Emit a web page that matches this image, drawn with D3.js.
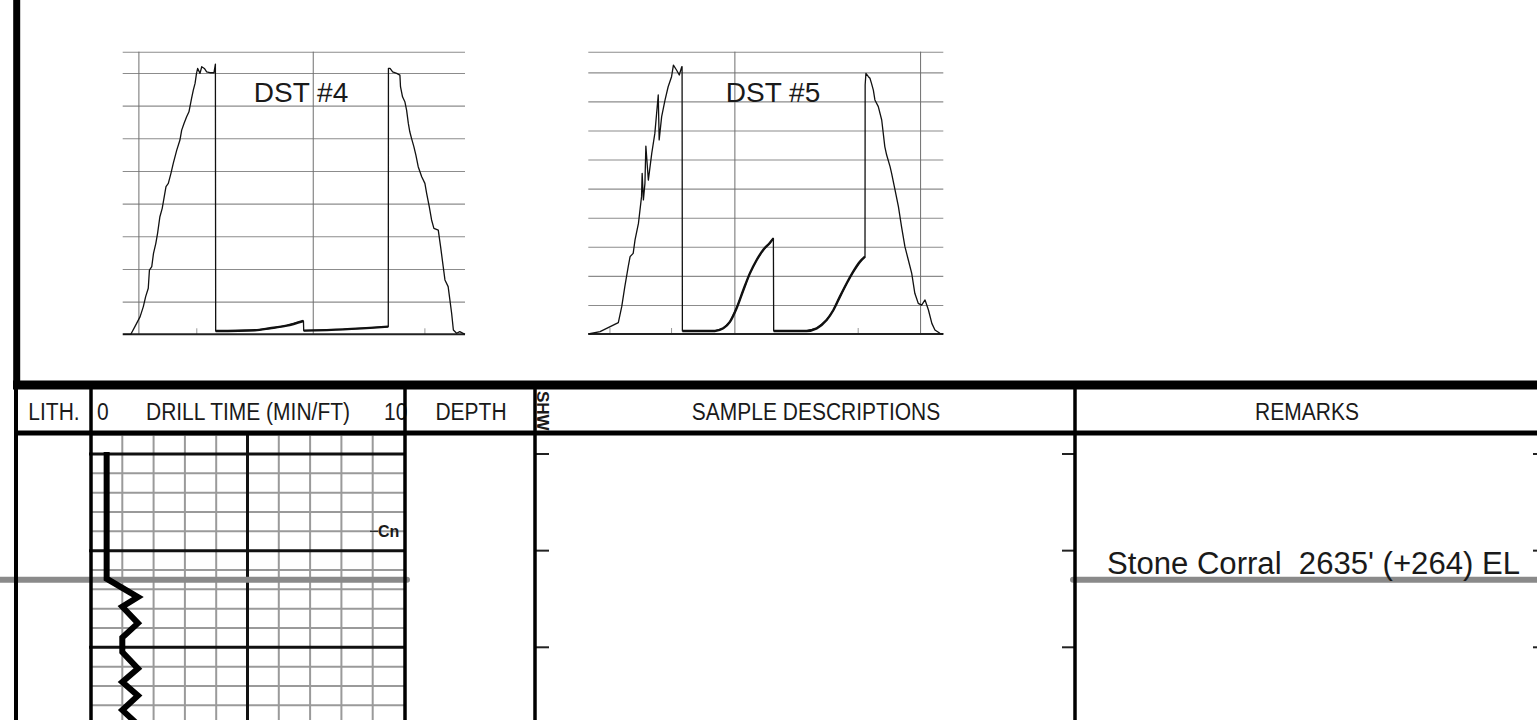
<!DOCTYPE html>
<html>
<head>
<meta charset="utf-8">
<script src="https://cdn.jsdelivr.net/npm/d3@7"></script>
<style>
  html, body { margin: 0; padding: 0; background: #fff; }
  svg { display: block; }
  text { font-family: "Liberation Sans", Arial, sans-serif; fill: #1a1a1a; white-space: pre; }
</style>
</head>
<body>
<svg id="log" width="1537" height="720"></svg>
<script>
// DST #4 pressure record: [minutes, psi]
const dst4 = [
  [0.2,0],[2.8,0],[4.2,59],[6.0,135],[7.1,212],[7.9,288],[8.8,352],[9.2,492],[10.0,518],[10.6,620],
  [11.4,696],[12.0,773],[12.8,900],[13.6,964],[14.3,1053],[14.9,1130],[15.7,1155],[16.6,1232],[17.4,1308],
  [18.6,1410],[19.7,1487],[20.3,1563],[21.1,1614],[22.0,1665],[22.8,1703],[23.7,1805],[24.3,1869],
  [24.9,1920],[25.4,1997],[25.8,2035],[26.6,1997],[27.2,2048],[28.1,2035],[28.9,2009],[30.0,2002],
  [31.4,2002],[31.9,2068],[32.0,25],[45.5,31],[50.7,46],[56.4,66],[62.2,102],[62.3,28],[75.9,38],
  [91.4,59],[91.45,2035],[92.0,2035],[92.9,2009],[94.3,1997],[95.4,1984],[95.6,1895],[96.3,1818],
  [97.1,1780],[97.7,1716],[98.3,1614],[98.8,1550],[99.4,1500],[100.2,1436],[100.9,1372],[101.7,1283],
  [102.9,1206],[104.0,1155],[104.6,1079],[105.5,977],[106.3,875],[107.1,811],[108.6,798],[109.4,671],
  [110.3,518],[110.9,416],[112.0,365],[112.6,263],[113.2,161],[113.8,33],[114.9,8],[116.0,20],[117.8,0]
];
const dst4Flows = [[32.0, 62.2], [62.3, 91.4]];
const dst4TimeGrid = [5.4, 65.4];
const dst4PressGrid = [250, 500, 750, 1000, 1250, 1500, 1750, 2000];
const dst4Marks = [25.5, 104.0];

// DST #5 pressure record: [minutes, psi]
const dst5 = [
  [0,0],[3.8,16],[9.7,78],[10.8,188],[11.8,326],[12.9,463],[13.5,532],[14.5,555],[15.1,647],[16.2,761],
  [17.2,945],[17.4,1105],[17.8,922],[18.3,1036],[18.6,1293],[19.4,1059],[20.5,1243],[21.5,1380],
  [22.6,1644],[22.9,1335],[23.7,1495],[24.8,1610],[25.8,1701],[26.9,1770],[27.5,1850],[28.5,1816],
  [29.4,1782],[30.2,1839],[30.3,1839],[30.4,21],[40.9,21],[43.6,39],[45.8,85],[47.9,177],[50.1,303],
  [52.2,417],[54.4,509],[56.5,578],[58.7,628],[59.8,658],[59.9,21],[70.5,21],[73.8,39],[77.0,96],
  [79.2,165],[81.3,257],[83.5,349],[85.6,429],[87.8,498],[89.4,532],[89.45,1713],[89.7,1793],[90.5,1770],
  [91.0,1759],[91.5,1724],[92.1,1678],[92.6,1610],[93.7,1564],[94.8,1472],[95.8,1289],[96.4,1231],
  [97.5,1151],[98.0,1105],[99.1,991],[100.2,876],[101.2,738],[102.3,601],[103.4,509],[104.5,417],
  [105.5,280],[106.6,211],[107.7,199],[108.8,234],[109.9,165],[111.0,73],[112.0,28],[113.6,5],[114.7,0]
];
const dst5Flows = [[30.4, 59.8], [59.9, 89.4]];
const dst5TimeGrid = [47.2, 107.2];
const dst5PressGrid = [200, 400, 600, 800, 1000, 1200, 1400, 1600, 1800];
const dst5Marks = [7.0, 26.9, 87.2];

// drill time track (min/ft vs depth)
const drillDepth = [2619.8, 2632.9, 2634.8, 2635.8, 2637.5, 2639.0, 2640.5, 2642.2, 2643.6, 2645.0, 2646.5, 2648.0];
const drillRate  = [0.5,    0.5,    1.5,    1.0,    1.5,    1.0,    1.0,    1.5,    1.0,    1.5,    1.0,    1.5];
const connections = [{ depth: 2628, label: 'Cn' }];
const tops = [{ depth: 2633, label: "Stone Corral  2635' (+264) EL" }];
const headers = ['LITH.', 'DRILL TIME (MIN/FT)', 'DEPTH', 'SHW', 'SAMPLE DESCRIPTIONS', 'REMARKS'];
const drillScaleLabels = ['0', '10'];

const svg = d3.select('#log');

function drawDst(box, data, flows, timeGrid, pressGrid, marks, label) {
  const x = d3.scaleLinear().domain(box.t).range([box.x0, box.x1]);
  const y = d3.scaleLinear().domain(box.p).range([box.y0, box.y1]);
  const g = svg.append('g');

  const hGrid = g.append('g').attr('transform', `translate(${box.x0},0)`)
    .call(d3.axisLeft(y).tickValues(pressGrid.concat([box.p[1]])).tickSize(-(box.x1 - box.x0)).tickFormat(''));
  hGrid.select('.domain').remove();
  hGrid.selectAll('line').attr('stroke', '#8c8c8c').attr('stroke-width', 1.1);

  const vGrid = g.append('g').attr('transform', `translate(0,${box.y0})`)
    .call(d3.axisBottom(x).tickValues(timeGrid).tickSize(-(box.y0 - box.y1)).tickFormat(''));
  vGrid.select('.domain').remove();
  vGrid.selectAll('line').attr('stroke', '#6e6e6e').attr('stroke-width', 1);

  g.selectAll('line.mark').data(marks).join('line').attr('class', 'mark')
    .attr('x1', d => x(d)).attr('x2', d => x(d))
    .attr('y1', y(0)).attr('y2', y(0) - 6)
    .attr('stroke', '#999').attr('stroke-width', 1);

  g.append('line')
    .attr('x1', box.x0).attr('x2', box.x1).attr('y1', y(0)).attr('y2', y(0))
    .attr('stroke', '#222').attr('stroke-width', 2);

  const line = d3.line().x(d => x(d[0])).y(d => y(d[1]));
  g.append('path').datum(data).attr('d', line)
    .attr('fill', 'none').attr('stroke', '#111').attr('stroke-width', 1.3).attr('stroke-linejoin', 'round');

  const flowLine = d3.line().x(d => x(d[0])).y(d => y(d[1])).curve(d3.curveMonotoneX);
  flows.forEach(f => {
    g.append('path').datum(data.filter(d => d[0] >= f[0] && d[0] <= f[1]))
      .attr('d', flowLine)
      .attr('fill', 'none').attr('stroke', '#111').attr('stroke-width', 2.4);
  });

  g.append('text').attr('x', box.labelX).attr('y', 102)
    .attr('text-anchor', 'middle').attr('font-size', 28).text(label);
}

drawDst({ x0: 122.7, x1: 465, y0: 334.3, y1: 51.7, t: [0, 117.8], p: [0, 2163], labelX: 301 },
  dst4, dst4Flows, dst4TimeGrid, dst4PressGrid, dst4Marks, 'DST #4');
drawDst({ x0: 588.3, x1: 943.3, y0: 334, y1: 51.7, t: [0, 114.7], p: [0, 1942], labelX: 773 },
  dst5, dst5Flows, dst5TimeGrid, dst5PressGrid, dst5Marks, 'DST #5');

// ---- log track area ----
const depth = d3.scaleLinear().domain([2620, 2640]).range([454, 647.3]);
const rate = d3.scaleLinear().domain([0, 10]).range([91, 404]);
const trackTop = 435, trackBottom = 720;

const grid = svg.append('g');
const minorDepths = d3.range(2618, 2650, 2).filter(d => d % 10 !== 0);
const majorDepths = d3.range(2620, 2650, 10);

grid.selectAll('line.hm').data(minorDepths).join('line')
  .attr('x1', rate(0)).attr('x2', rate(10)).attr('y1', d => depth(d)).attr('y2', d => depth(d))
  .attr('stroke', '#9a9a9a').attr('stroke-width', 2);
grid.selectAll('line.vm').data(d3.range(1, 10).filter(v => v !== 5)).join('line')
  .attr('x1', d => rate(d)).attr('x2', d => rate(d)).attr('y1', trackTop).attr('y2', trackBottom)
  .attr('stroke', '#9a9a9a').attr('stroke-width', 2);
grid.selectAll('line.hM').data(majorDepths).join('line')
  .attr('x1', rate(0) - 2).attr('x2', rate(10)).attr('y1', d => depth(d)).attr('y2', d => depth(d))
  .attr('stroke', '#111').attr('stroke-width', 3);
grid.append('line')
  .attr('x1', rate(5)).attr('x2', rate(5)).attr('y1', trackTop).attr('y2', trackBottom)
  .attr('stroke', '#111').attr('stroke-width', 3);

// connection marker
connections.forEach(c => {
  grid.append('line').attr('x1', 370).attr('x2', 378).attr('y1', depth(c.depth)).attr('y2', depth(c.depth))
    .attr('stroke', '#222').attr('stroke-width', 1.2);
  grid.append('text').attr('x', 378).attr('y', depth(c.depth) + 6)
    .attr('font-size', 16).attr('font-weight', 'bold').text(c.label);
});

// formation tops (gray)
tops.forEach(t => {
  [[0, 407], [1073, 1537]].forEach(seg => {
    svg.append('line').attr('x1', seg[0]).attr('x2', seg[1])
      .attr('y1', depth(t.depth)).attr('y2', depth(t.depth))
      .attr('stroke', '#8a8a8a').attr('stroke-width', 6).attr('stroke-linecap', 'round');
  });
  svg.append('text').attr('x', 1107).attr('y', depth(t.depth) - 6)
    .attr('font-family', '"Comic Sans MS", "DejaVu Sans", sans-serif')
    .attr('font-size', 31).attr('textLength', 413).attr('lengthAdjust', 'spacingAndGlyphs')
    .text(t.label);
});

// drill time curve
const drillLine = d3.line().x((d, i) => rate(drillRate[i])).y(d => depth(d));
svg.append('path').datum(drillDepth).attr('d', drillLine)
  .attr('fill', 'none').attr('stroke', '#000').attr('stroke-width', 6).attr('stroke-linejoin', 'miter');

// depth ticks along column edges
const frame = svg.append('g');
[[535, 549], [1062, 1075], [1533, 1537]].forEach(seg => {
  frame.selectAll(null).data(majorDepths).join('line')
    .attr('x1', seg[0]).attr('x2', seg[1]).attr('y1', d => depth(d)).attr('y2', d => depth(d))
    .attr('stroke', '#222').attr('stroke-width', 2);
});

// header labels
const hdr = svg.append('g').attr('font-size', 21);
const hdrText = (x, anchor, s) => hdr.append('text')
  .attr('transform', `translate(${x},420) scale(1,1.12)`).attr('text-anchor', anchor).text(s);
hdrText(54, 'middle', headers[0]);
hdrText(97, 'start', drillScaleLabels[0]);
hdrText(248, 'middle', headers[1]);
hdrText(384, 'start', drillScaleLabels[1]);
hdrText(471, 'middle', headers[2]);
hdr.append('text').attr('transform', 'translate(537,391) rotate(90)')
  .attr('font-size', 17).attr('font-weight', 'bold').text(headers[3]);
hdrText(816, 'middle', headers[4]);
hdrText(1307, 'middle', headers[5]);

// frame lines, drawn last so the dividers clip the "10"
frame.raise();
frame.append('line').attr('x1', 16.7).attr('x2', 16.7).attr('y1', 0).attr('y2', 386).attr('stroke', '#000').attr('stroke-width', 7);
frame.append('line').attr('x1', 13).attr('x2', 1537).attr('y1', 385).attr('y2', 385).attr('stroke', '#000').attr('stroke-width', 9);
frame.append('line').attr('x1', 14).attr('x2', 1537).attr('y1', 433).attr('y2', 433).attr('stroke', '#000').attr('stroke-width', 5);
[16, 91, 405, 535, 1075].forEach(xv => {
  frame.append('line').attr('x1', xv).attr('x2', xv).attr('y1', 385).attr('y2', 720)
    .attr('stroke', '#000').attr('stroke-width', xv === 16 ? 4 : 3.5);
});
</script>
</body>
</html>
